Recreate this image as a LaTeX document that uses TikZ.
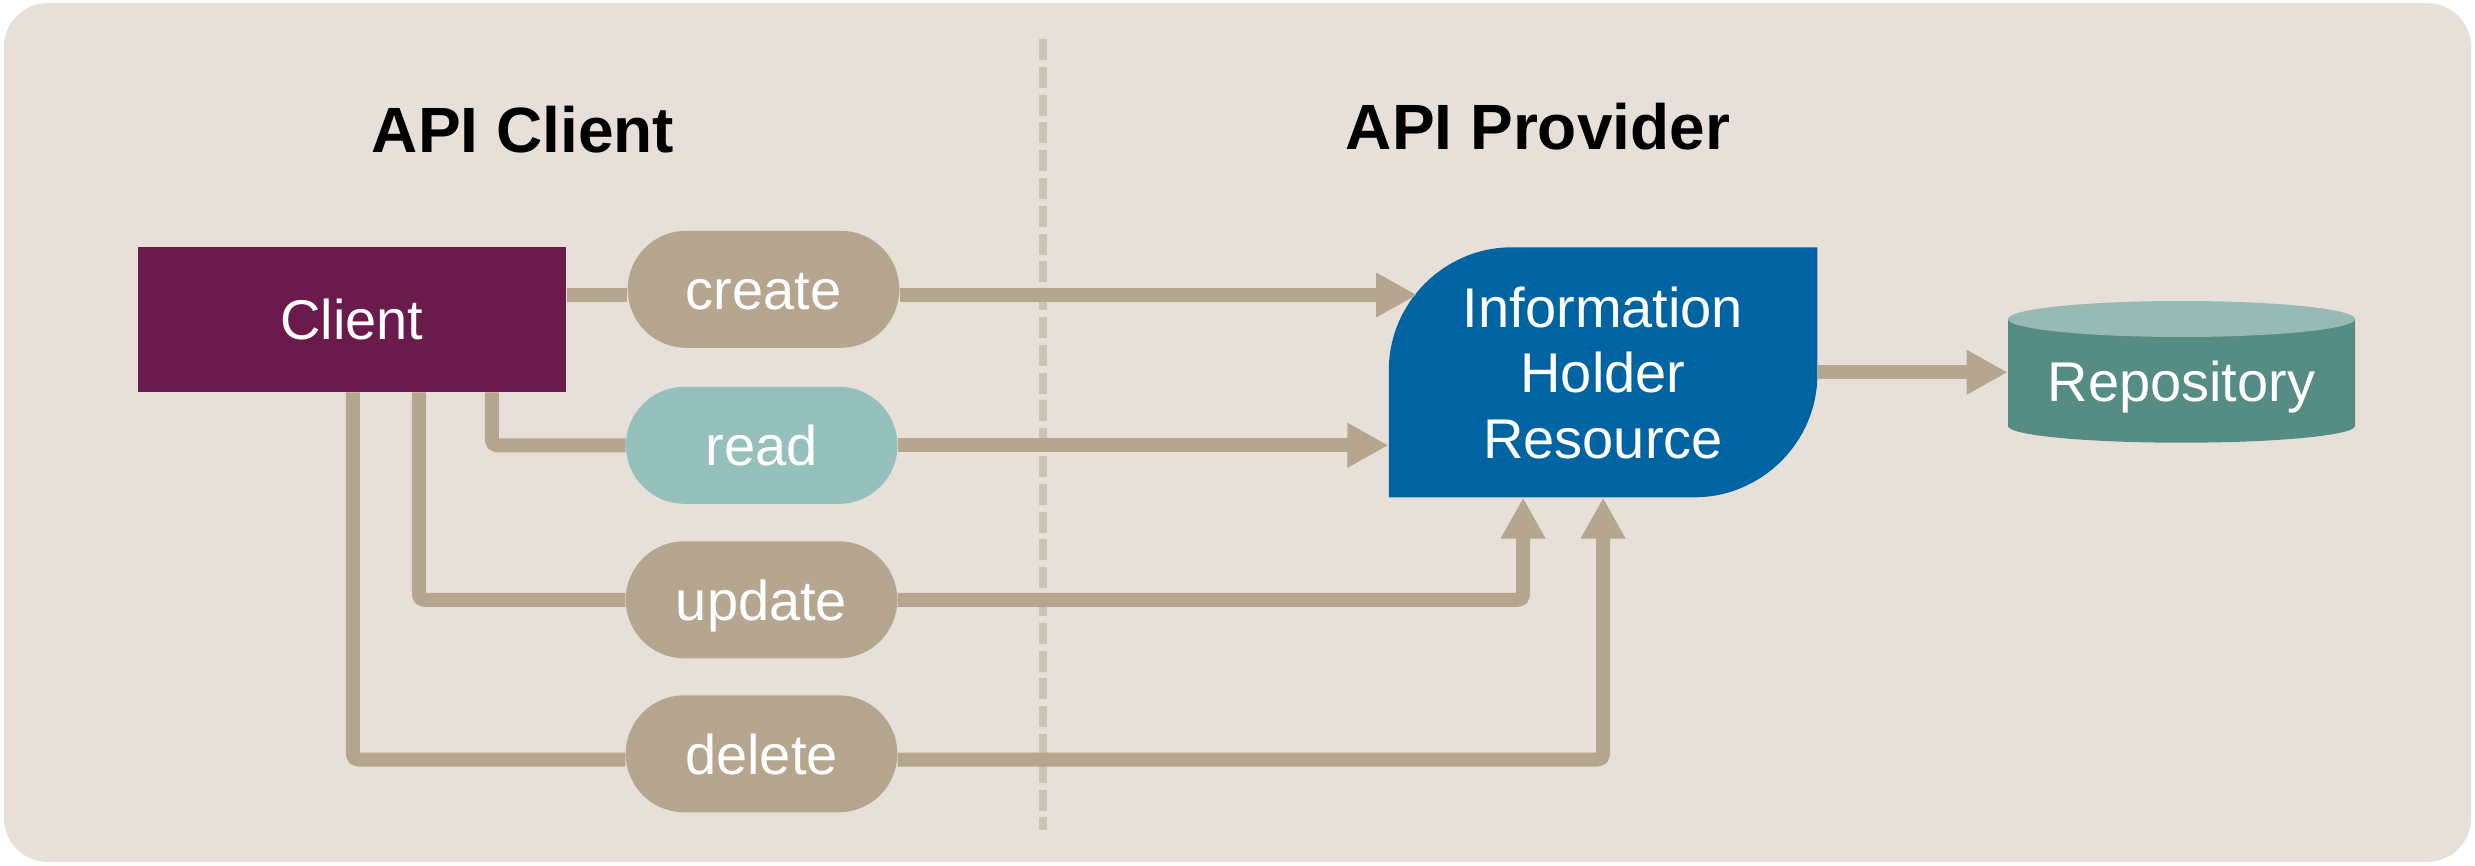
\documentclass[tikz,border=0pt]{standalone}
\usepackage{fontspec}
\setmainfont{Liberation Sans}
\usetikzlibrary{arrows.meta,shapes.misc}
\definecolor{bgc}{HTML}{E7E0D9}
\definecolor{clientc}{HTML}{6B1A4C}
\definecolor{tanc}{HTML}{B6A68F}
\definecolor{readc}{HTML}{96C0BB}
\definecolor{ihrc}{HTML}{0064A2}
\definecolor{repobody}{HTML}{558C84}
\definecolor{repotop}{HTML}{98BAB5}
\definecolor{dashc}{HTML}{CDC3B5}
\begin{document}
\begin{tikzpicture}[x=0.5pt,y=-0.5pt,
  txt/.style={font=\fontsize{28}{33}\selectfont, text=white},
  pill/.style={rounded rectangle, fill=tanc, minimum width=135.8pt, minimum height=58.5pt,
    inner sep=0pt, text height=20.3pt, text depth=0pt, txt},
  conn/.style={draw=tanc, line width=7pt, line join=round, rounded corners=2.5pt},
  arr/.style={conn, -{Triangle[length=20.5pt,width=21pt]}},
  title/.style={font=\fontsize{32}{38}\selectfont\bfseries, text=black, anchor=base, inner sep=0pt}
]
% page and background
\useasboundingbox (0,0) rectangle (2475,866);
\fill[white] (0,0) rectangle (2475,866);
\fill[bgc, rounded corners=22pt] (4,3) rectangle (2471,862);

% divider
\draw[dashc, line width=3.7pt, dash pattern=on 10.5pt off 3.4pt] (1043,39) -- (1043,830);

% titles
\node[title] (tclient) at (523,152.7) {API Client};
\node[title] (tprov) at (1538,150) {API Provider};

% client
\node[fill=clientc, minimum width=214.3pt, minimum height=72.6pt, inner sep=0pt,
      text height=20pt, text depth=0pt, txt] (client) at (351.9,319.5) {Client};

% operations
\node[pill] (create) at (763.5,289.3) {create};
\node[pill, fill=readc] (read) at (761.7,445.3) {read};
\node[pill] (update) at (761.5,599.8) {update};
\node[pill] (delete) at (761.5,753.8) {delete};

% information holder resource
\fill[ihrc] (1388.8,497.3) -- (1388.8,370.3)
  .. controls (1388.8,302.4) and (1444.6,247.3) .. (1511.8,247.3)
  -- (1817.4,247.3) -- (1817.4,374.3)
  .. controls (1817.4,442.2) and (1761.6,497.3) .. (1694.4,497.3) -- cycle;
\node[minimum width=214.3pt, minimum height=125pt, inner sep=0pt] (ihr) at (1603.1,372.3) {};
\node[txt, anchor=base, inner sep=0pt] (ihr1) at (1603,327.3) {Information};
\node[txt, anchor=base, inner sep=0pt] (ihr2) at (1603,392.7) {Holder};
\node[txt, anchor=base, inner sep=0pt] (ihr3) at (1603,458.7) {Resource};

% repository cylinder
\fill[repobody] (2008,319) -- (2008,426)
  arc[start angle=180, end angle=360, x radius=86.75pt, y radius=8.35pt]
  -- (2355,319) -- cycle;
\fill[repotop] (2181.5,319) ellipse[x radius=86.75pt, y radius=9pt];
\node[txt, minimum width=173.5pt, inner sep=0pt, text height=20pt, text depth=0pt] (repo) at (2181.5,381.7) {Repository};

% helper levels
\coordinate (yc) at (0,295.5);
\coordinate (ctip) at (1417,295);
\coordinate (yd) at (0,759.5);

% connectors
\draw[conn] (client.east |- yc) -- (create.west |- yc);
\draw[arr] (create.east |- ctip) -- (ctip);
\draw[conn] ([xshift=70pt]client.south) |- (read.west);
\draw[arr] (read.east) -- (read.east -| ihr.west);
\draw[conn] ([xshift=33.5pt]client.south) |- (update.west);
\draw[arr] (update.east) -| ([xshift=-40pt]ihr.south);
\draw[conn] ([xshift=0.5pt]client.south) |- (delete.west |- yd);
\draw[arr] (delete.east |- yd) -| (ihr.south);
\draw[arr] (ihr.east) -- (ihr.east -| repo.west);
\end{tikzpicture}
\end{document}
